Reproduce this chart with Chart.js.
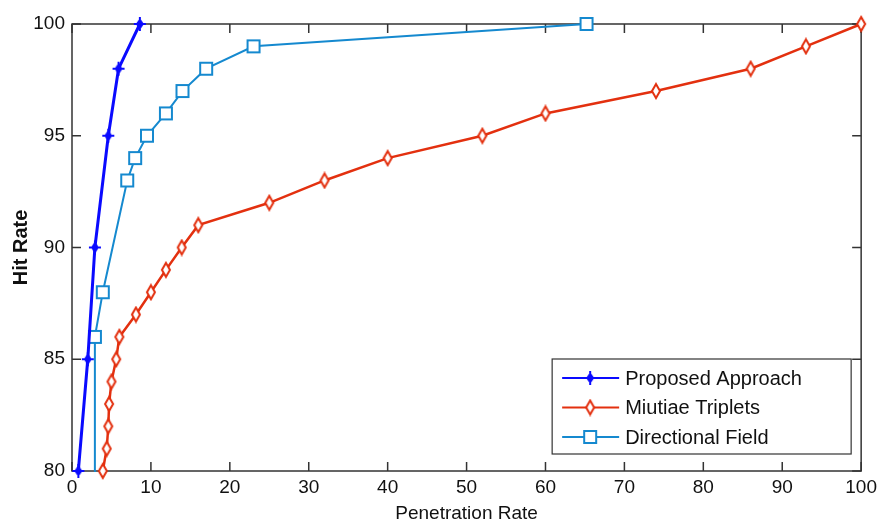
<!DOCTYPE html>
<html lang="en">
<head>
    <meta charset="UTF-8">
    <title>Hit Rate vs Penetration Rate</title>
    <style>
        html, body { margin: 0; padding: 0; background: #fff; }
        .chart-container { width: 882px; height: 525px; }
    </style>
</head>
<body>
    <div class="chart-container">
        <canvas id="chartArea"></canvas>
    </div>

    <script src="https://cdn.jsdelivr.net/npm/chart.js@4.4.0/dist/chart.umd.min.js"></script>
    <script>
        // values
        var series_names = ['Proposed Approach', 'Miutiae Triplets', 'Directional Field'];

        var proposed_x = [0.8, 2.0, 2.9, 4.6, 5.9, 8.6];
        var proposed_y = [80, 85, 90, 95, 98, 100];

        var triplets_x = [3.9, 4.4, 4.6, 4.7, 5.0, 5.6, 6.0, 8.1, 10, 11.9, 13.9, 16, 25, 32, 40, 52, 60, 74, 86, 93, 100];
        var triplets_y = [80, 81, 82, 83, 84, 85, 86, 87, 88, 89, 90, 91, 92, 93, 94, 95, 96, 97, 98, 99, 100];

        var field_x = [2.8, 2.9, 3.9, 7.0, 8.0, 9.5, 11.9, 14, 17, 23, 65.2];
        var field_y = [80, 86, 88, 93, 94, 95, 96, 97, 98, 99, 100];

        var x_ticks = [0, 10, 20, 30, 40, 50, 60, 70, 80, 90, 100];
        var y_ticks = [80, 85, 90, 95, 100];

        var BLUE = '#0a0aff', RED = '#e3300f', CYAN = '#1589cf';
        var FONT = "'Liberation Sans', Arial, sans-serif";

        function to_points(xs, ys) {
            return xs.map((v, i) => ({x: v, y: ys[i]}));
        }

        // small marker images, matlab look
        function make_marker(kind) {
            var c = document.createElement('canvas');
            c.width = 16; c.height = 18;
            var g = c.getContext('2d');
            var cx = 8, cy = 9;
            if (kind === 'diamond') {
                g.strokeStyle = RED; g.fillStyle = '#fff'; g.lineWidth = 2;
                g.beginPath();
                g.moveTo(cx, cy - 7); g.lineTo(cx + 4, cy); g.lineTo(cx, cy + 7); g.lineTo(cx - 4, cy);
                g.closePath(); g.fill(); g.stroke();
            } else if (kind === 'square') {
                g.strokeStyle = CYAN; g.fillStyle = '#fff'; g.lineWidth = 2;
                g.fillRect(cx - 6, cy - 6, 12, 12);
                g.strokeRect(cx - 6, cy - 6, 12, 12);
            } else {
                g.fillStyle = BLUE; g.strokeStyle = BLUE; g.lineWidth = 2;
                g.beginPath();
                g.moveTo(cx, cy - 6); g.lineTo(cx + 4, cy); g.lineTo(cx, cy + 6); g.lineTo(cx - 4, cy);
                g.closePath(); g.fill();
                g.beginPath();
                g.moveTo(cx - 6, cy); g.lineTo(cx + 6, cy);
                g.moveTo(cx, cy - 7); g.lineTo(cx, cy + 7);
                g.stroke();
            }
            return c;
        }

        var markers = {
            star: make_marker('star'),
            diamond: make_marker('diamond'),
            square: make_marker('square')
        };

        var daily_datasets = [
            {
                label: series_names[2],
                data: to_points(field_x, field_y),
                borderColor: CYAN,
                backgroundColor: '#ffffff',
                borderWidth: 2,
                pointStyle: markers.square,
                pointRadius: [0, 6, 6, 6, 6, 6, 6, 6, 6, 6, 6],
                clip: false,
                order: 3
            },
            {
                label: series_names[1],
                data: to_points(triplets_x, triplets_y),
                borderColor: RED,
                backgroundColor: '#ffffff',
                borderWidth: 2.5,
                pointStyle: markers.diamond,
                pointRadius: 5,
                clip: false,
                order: 2
            },
            {
                label: series_names[0],
                data: to_points(proposed_x, proposed_y),
                borderColor: BLUE,
                backgroundColor: BLUE,
                borderWidth: 3,
                pointStyle: markers.star,
                pointRadius: 5,
                clip: false,
                order: 1
            }
        ];

        // matlab style box, inward ticks and legend inside the axes
        const matlabBox = {
            id: 'matlabBox',
            beforeDatasetsDraw(chart) {
                const ctx = chart.ctx;
                const a = chart.chartArea;
                const xs = chart.scales.x, ys = chart.scales.y;
                ctx.save();
                ctx.strokeStyle = '#333';
                ctx.lineWidth = 1.5;
                ctx.strokeRect(a.left, a.top, a.right - a.left, a.bottom - a.top);
                ctx.beginPath();
                x_ticks.forEach(function (t) {
                    var px = xs.getPixelForValue(t);
                    ctx.moveTo(px, a.bottom); ctx.lineTo(px, a.bottom - 9);
                    ctx.moveTo(px, a.top); ctx.lineTo(px, a.top + 9);
                });
                y_ticks.forEach(function (t) {
                    var py = ys.getPixelForValue(t);
                    ctx.moveTo(a.left, py); ctx.lineTo(a.left + 9, py);
                    ctx.moveTo(a.right, py); ctx.lineTo(a.right - 9, py);
                });
                ctx.stroke();
                ctx.restore();
            },
            afterDraw(chart) {
                const ctx = chart.ctx;
                const a = chart.chartArea;
                ctx.save();
                // legend
                var bx = a.right - 309, by = a.bottom - 112, bw = 299, bh = 95;
                ctx.fillStyle = '#fff';
                ctx.fillRect(bx, by, bw, bh);
                ctx.strokeStyle = '#333';
                ctx.lineWidth = 1.2;
                ctx.strokeRect(bx, by, bw, bh);
                var rows = [2, 1, 0];
                rows.forEach(function (di, r) {
                    var ds = chart.data.datasets[di];
                    var yy = by + 19 + r * 29.5;
                    ctx.strokeStyle = ds.borderColor;
                    ctx.lineWidth = 2;
                    ctx.beginPath();
                    ctx.moveTo(bx + 10, yy); ctx.lineTo(bx + 67, yy);
                    ctx.stroke();
                    var img = ds.pointStyle;
                    ctx.drawImage(img, bx + 38 - img.width / 2, yy - img.height / 2);
                    ctx.fillStyle = '#111';
                    ctx.font = '20px ' + FONT;
                    ctx.textBaseline = 'middle';
                    ctx.textAlign = 'left';
                    ctx.fillText(ds.label, bx + 73, yy + 1);
                });
                ctx.restore();
            }
        };

        const config = {
            type: 'line',
            data: { datasets: daily_datasets },
            options: {
                responsive: true,
                maintainAspectRatio: false,
                animation: false,
                layout: { padding: { top: 24, right: 18, left: 0, bottom: 0 } },
                plugins: {
                    legend: { display: false },
                    tooltip: { enabled: false }
                },
                scales: {
                    x: {
                        type: 'linear',
                        min: 0, max: 100,
                        afterBuildTicks: function (s) { s.ticks = x_ticks.map(v => ({value: v})); },
                        afterFit: function (s) { s.height = 54; },
                        grid: { display: false, drawTicks: false },
                        border: { display: false },
                        ticks: { color: '#111', font: { family: FONT, size: 19 }, padding: 5, maxRotation: 0 },
                        title: { display: true, text: 'Penetration Rate', color: '#111', font: { family: FONT, size: 19 }, padding: { top: 0, bottom: 0 } }
                    },
                    y: {
                        type: 'linear',
                        min: 80, max: 100,
                        afterBuildTicks: function (s) { s.ticks = y_ticks.map(v => ({value: v})); },
                        afterFit: function (s) { s.width = 72; },
                        grid: { display: false, drawTicks: false },
                        border: { display: false },
                        ticks: { color: '#111', font: { family: FONT, size: 19 }, padding: 7 },
                        title: { display: true, text: 'Hit Rate', color: '#111', font: { family: FONT, size: 20, weight: 'bold' }, padding: { top: 9, bottom: 0 } }
                    }
                }
            },
            plugins: [matlabBox]
        };

        var myChart = new Chart(document.getElementById('chartArea'), config);
    </script>
</body>
</html>
